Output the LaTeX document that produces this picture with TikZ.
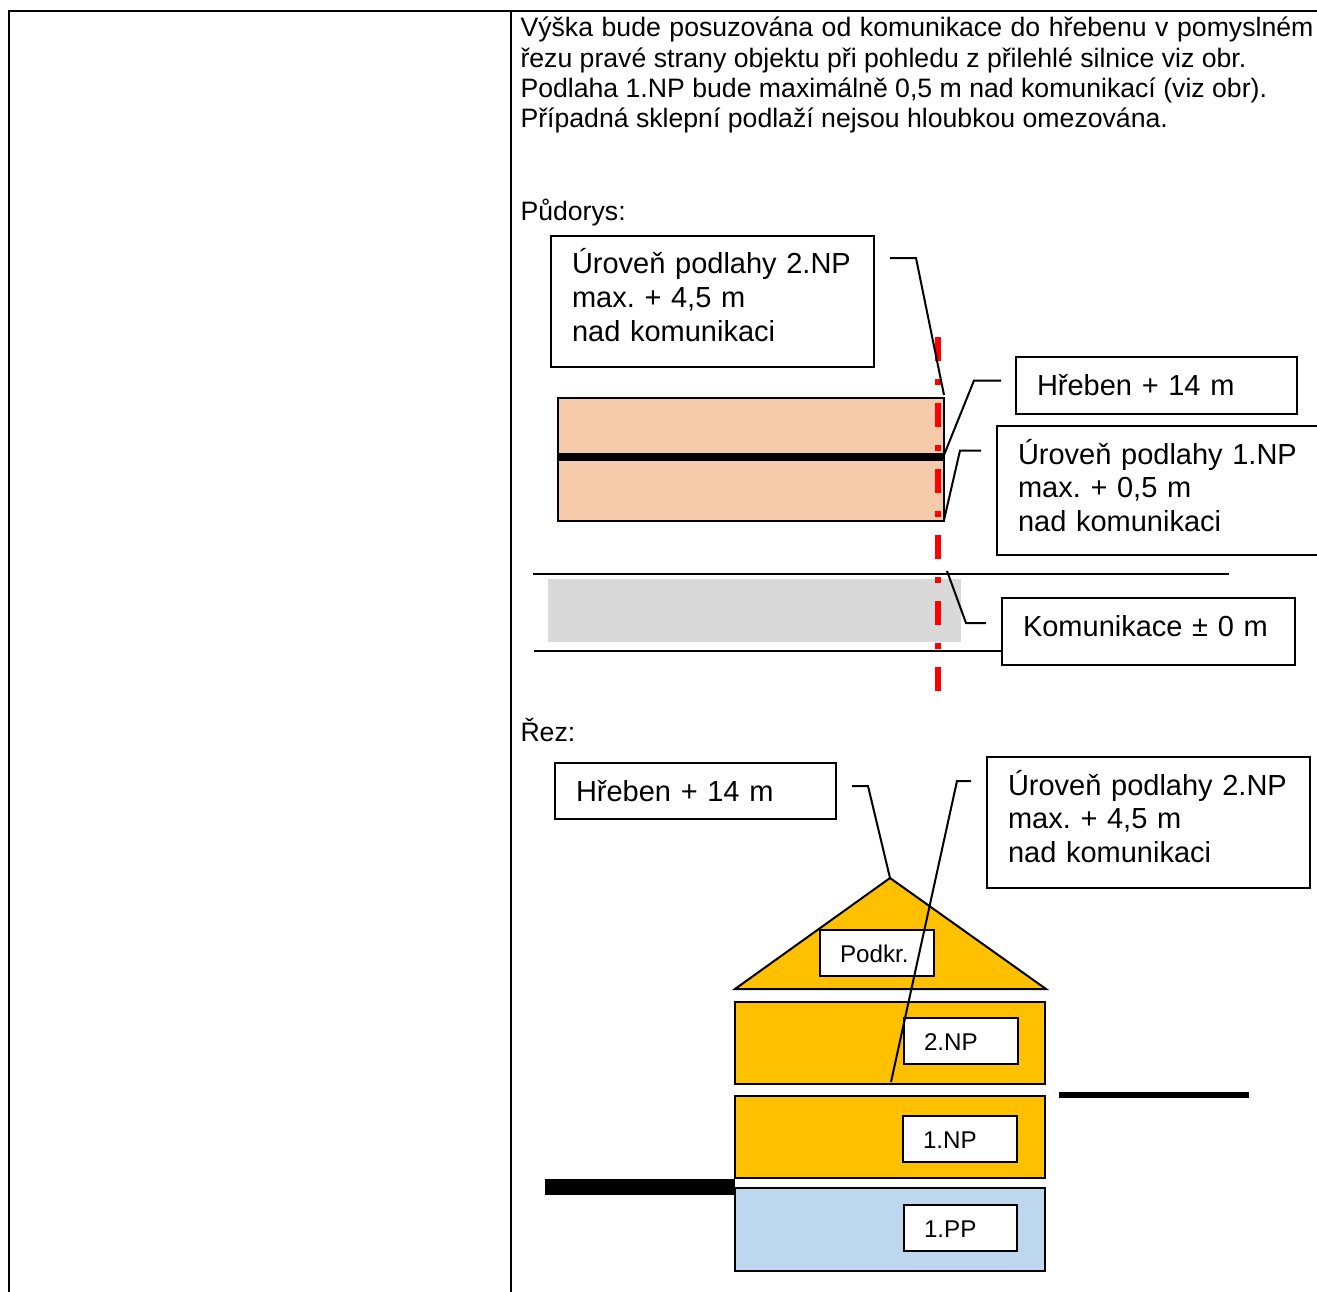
\documentclass[tikz,border=0pt]{standalone}
\usepackage{fontspec}
\setmainfont{Liberation Sans}
\newfontfamily\callfont[WordSpace=0.8]{Liberation Sans}
\definecolor{roofor}{HTML}{FFC000}
\definecolor{peach}{HTML}{F5CBAB}
\definecolor{ppblue}{HTML}{BDD7EE}
\definecolor{roadgr}{HTML}{D9D9D9}
\tikzset{
 x=1pt,y=-1pt,
 bodytext/.style={anchor=base west,inner sep=0pt,font=\frenchspacing\fontsize{26.65}{30}\selectfont},
 callbox/.style={draw=black,line width=2pt,fill=white,anchor=north west,xshift=-1.5pt,yshift=0.8pt,inner sep=0pt,align=left,text height=38pt,font=\frenchspacing\callfont\fontsize{29}{33.7}\selectfont},
 floorlabel/.style={draw=black,line width=2pt,fill=white,anchor=north west,xshift=-1.5pt,yshift=1.6pt,inner sep=0pt,align=left,text width=#1,text height=33pt,text depth=13pt,font=\fontsize{24.2}{27}\selectfont},
 leader/.style={draw=black,line width=2pt,line join=miter},
 floorrect/.style={draw=black,line width=2pt},
 frameline/.style={draw=black,line width=2pt}
}
\begin{document}
\begin{tikzpicture}
\useasboundingbox (0,0) rectangle (1317,1292);
\clip (0,0) rectangle (1317,1292);
\fill[white] (0,0) rectangle (1317,1292);
% table frame
\coordinate (tl) at (9,11.5); \coordinate (tr) at (1317,11.5);
\coordinate (bl) at (9,1292); \coordinate (tm) at (511,11.5); \coordinate (bm) at (511,1292);
\draw[frameline] (bl) -- (tl) -- (tr);
\draw[frameline] (tm) -- (bm);
% intro text
\node[bodytext] (l1) at (520.3,37) {\makebox[793pt][s]{Výška bude posuzována od komunikace do hřebenu v pomyslném}};
\node[bodytext] (l2) at (520.3,67.5) {řezu pravé strany objektu při pohledu z přilehlé silnice viz obr.};
\node[bodytext] (l3) at (520.3,97.5) {Podlaha 1.NP bude maximálně 0,5 m nad komunikací (viz obr).};
\node[bodytext] (l4) at (520.3,127.5) {Případná sklepní podlaží nejsou hloubkou omezována.};
\node[bodytext] (pud) at (520.3,220.5) {Půdorys:};
\node[bodytext] (rez) at (520.3,741.5) {Řez:};
% plan
\fill[roadgr] (548,579) rectangle (961,642);
\coordinate (road1a) at (533,573.5); \coordinate (road1b) at (1229,573.5);
\coordinate (road2a) at (534,650.5); \coordinate (road2b) at (1002,650.5);
\draw[floorrect] (road1a) -- (road1b);
\draw[floorrect] (road2a) -- (road2b);
\draw[floorrect,fill=peach] (557.5,398) rectangle (943.5,521);
\coordinate (axisA) at (938,337); \coordinate (axisB) at (938,691);
\draw[red,line width=5.6pt,dash pattern=on 24pt off 18pt on 6pt off 18pt] (axisA) -- (axisB);
\coordinate (ridgeA) at (558,456.5); \coordinate (ridgeB) at (945,456.5);
\draw[black,line width=8pt] (ridgeA) -- (ridgeB);
% plan callouts
\node[callbox,text width=323pt,text depth=93pt] (boxA) at (551.5,235.5) {\hspace*{21pt}Úroveň podlahy 2.NP\\\hspace*{21pt}max. + 4,5 m\\\hspace*{21pt}nad komunikaci};
\node[callbox,text width=281pt,text depth=19pt] (boxB) at (1016.5,357) {\hspace*{21pt}Hřeben + 14 m};
\node[callbox,text width=340pt,text depth=91pt] (boxC) at (997.5,426) {\hspace*{21pt}Úroveň podlahy 1.NP\\\hspace*{21pt}max. + 0,5 m\\\hspace*{21pt}nad komunikaci};
\node[callbox,text width=293pt,text depth=29pt] (boxD) at (1002.5,598) {\hspace*{21pt}Komunikace ± 0 m};
\coordinate (la1) at (890,258); \coordinate (la2) at (916,258); \coordinate (la3) at (944,395);
\draw[leader] (la1) -- (la2) -- (la3);
\coordinate (lb1) at (1001,380.5); \coordinate (lb2) at (974,380.5); \coordinate (lb3) at (944,455);
\draw[leader] (lb1) -- (lb2) -- (lb3);
\coordinate (lc1) at (981,450.5); \coordinate (lc2) at (960,450.5); \coordinate (lc3) at (944,520);
\draw[leader] (lc1) -- (lc2) -- (lc3);
\coordinate (ld1) at (947,571); \coordinate (ld2) at (966,623); \coordinate (ld3) at (986,623);
\draw[leader] (ld1) -- (ld2) -- (ld3);
% section
\draw[floorrect,fill=roofor] (735,989) -- (890,878) -- (1046,989) -- cycle;
\draw[floorrect,fill=roofor] (734.5,1002) rectangle (1045,1084);
\draw[floorrect,fill=roofor] (734.5,1095.5) rectangle (1045,1178);
\draw[floorrect,fill=ppblue] (734.5,1188) rectangle (1045,1270.5);
\node[floorlabel=114pt] (podkr) at (820.5,930.5) {\hspace*{20pt}Podkr.};
\node[floorlabel=114pt] (np2) at (904.5,1018.5) {\hspace*{20pt}2.NP};
\node[floorlabel=114pt] (np1) at (903.5,1116.5) {\hspace*{20pt}1.NP};
\node[floorlabel=113pt] (pp1) at (904.5,1205.5) {\hspace*{20pt}1.PP};
\coordinate (barA) at (1059,1095); \coordinate (barB) at (1249,1095);
\draw[black,line width=6pt] (barA) -- (barB);
\coordinate (barC) at (545,1187); \coordinate (barD) at (735,1187);
\draw[black,line width=16pt] (barC) -- (barD);
\node[callbox,text width=281pt,text depth=18pt] (boxE) at (555.5,763) {\hspace*{21pt}Hřeben + 14 m};
\node[callbox,text width=323pt,text depth=93pt] (boxF) at (987.5,757) {\hspace*{21pt}Úroveň podlahy 2.NP\\\hspace*{21pt}max. + 4,5 m\\\hspace*{21pt}nad komunikaci};
\coordinate (le1) at (852,786); \coordinate (le2) at (868,786); \coordinate (le3) at (890,878);
\draw[leader] (le1) -- (le2) -- (le3);
\coordinate (lf1) at (971,781); \coordinate (lf2) at (957,781); \coordinate (lf3) at (891,1082);
\draw[leader] (lf1) -- (lf2) -- (lf3);
\end{tikzpicture}
\end{document}
